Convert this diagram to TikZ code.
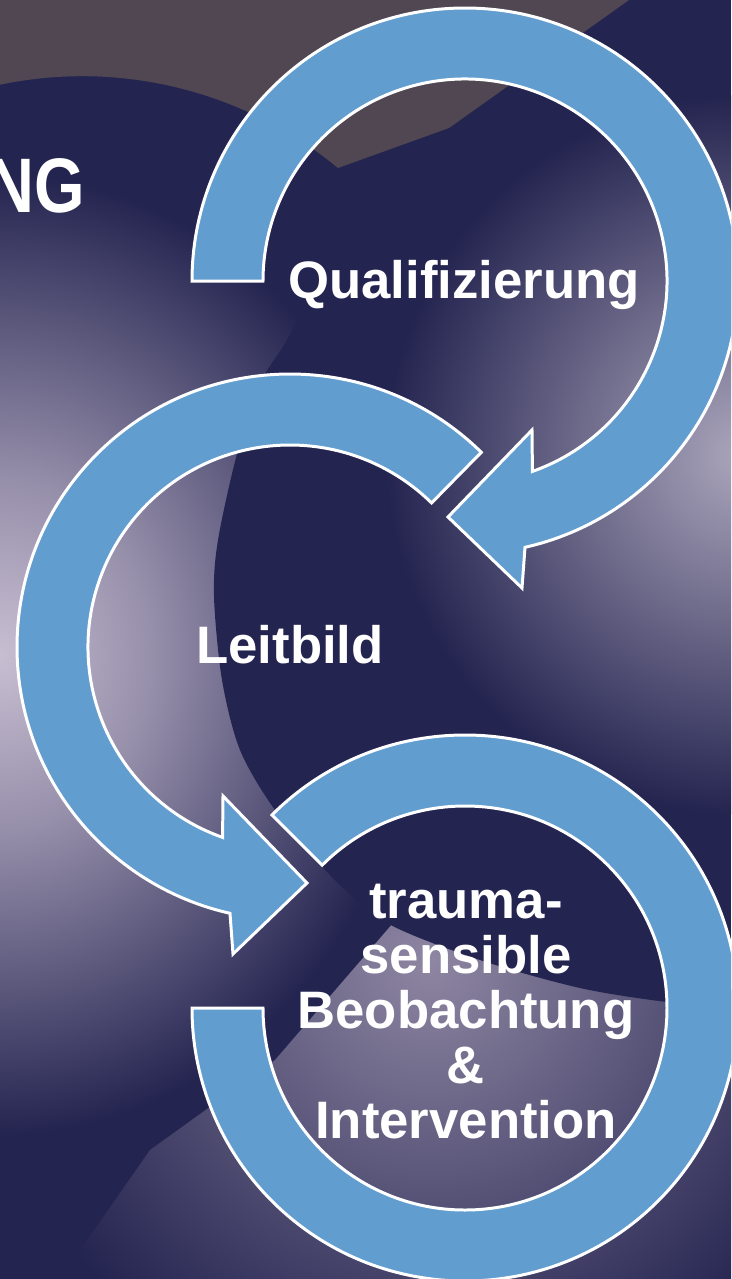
\documentclass[tikz,border=0pt]{standalone}
\usepackage{fontspec}
\setmainfont{Liberation Sans}
\definecolor{navy}{RGB}{36,36,80}
\definecolor{slatebrown}{RGB}{80,71,82}
\definecolor{arrowblue}{RGB}{98,157,208}
\definecolor{glowleft}{RGB}{200,190,210}
\definecolor{glowright}{RGB}{172,166,188}
\definecolor{glowlow}{RGB}{142,134,162}
\pgfdeclareradialshading{leftglow}{\pgfpointorigin}{color(0bp)=(glowleft); color(9bp)=(glowleft!70!navy); color(25bp)=(navy); color(50bp)=(navy)}
\pgfdeclareradialshading{rightglow}{\pgfpointorigin}{color(0bp)=(glowright); color(25bp)=(navy); color(50bp)=(navy)}
\pgfdeclareradialshading{lowglow}{\pgfpointorigin}{color(0bp)=(glowlow); color(25bp)=(navy); color(50bp)=(navy)}

\begin{document}
\begin{tikzpicture}[x=0.02cm, y=0.02cm,
    cyclearrow/.style={fill=arrowblue, draw=white, line width=1.7pt, miter limit=10},
    steplabel/.style={text=white, font=\fontsize{30}{31.3}\selectfont\bfseries, inner sep=0pt, align=center}]
  \useasboundingbox (0,0) rectangle (731,-1279);
  \clip (0,0) rectangle (731,-1279);
  % background
  \fill[navy] (0,0) rectangle (731,-1279);
  \shade[shading=leftglow] (0,-655) ellipse [x radius=420, y radius=480];
  \begin{scope}
    \clip (400,-915) -- (275,-1060) -- (150,-1150) -- (60,-1279) -- (731,-1279) -- (731,-990) -- cycle;
    \shade[shading=lowglow] (430,-960) circle [radius=460];
  \end{scope}
  \begin{scope}
    \clip plot[smooth] coordinates {(360,-150) (298,-318) (262,-380) (238,-450) (218,-540) (214,-597) (222,-680) (240,-750) (275,-810) (330,-875) (387,-923) (480,-960) (580,-988) (667,-1002) (731,-1006)} -- (731,0) -- (500,0) -- cycle;
    \fill[navy] (0,0) rectangle (731,-1279);
    \shade[shading=rightglow] (745,-455) circle [radius=360];
  \end{scope}
  \fill[slatebrown] (0,0) -- (629,0) -- (449,-128) -- (338,-168) arc[start angle=50.5, end angle=102.1, radius=402] -- cycle;

  % arrows
  \coordinate (c1) at (465,-281);
  \coordinate (c2) at (290,-647);
  \coordinate (c3) at (465,-1008);
  \draw[cyclearrow, shift={(c1)}] (180:273) arc[start angle=180, end angle=-77.3, radius=273]
    -- (57,-307) -- (-17,-236) -- (67,-149) -- (-70.5:202) arc[start angle=-70.5, end angle=180, radius=202] -- cycle;
  \draw[cyclearrow, shift={(c2)}] (45.5:273) arc[start angle=45.5, end angle=257.3, radius=273]
    -- (-57,-307) -- (17,-236) -- (-67,-149) -- (250.5:202) arc[start angle=250.5, end angle=45.5, radius=202] -- cycle;
  \draw[cyclearrow, shift={(c3)}] (135:273) arc[start angle=135, end angle=-180, radius=273]
    -- (180:202) arc[start angle=-180, end angle=135, radius=202] -- cycle;

  % labels
  \node[steplabel, anchor=base] (qual) at (464,-298) {Qualifizierung};
  \node[steplabel, anchor=base] (leit) at (290,-663) {Leitbild};
  \node[steplabel] (trauma) at (466,-1012) {trauma-\\sensible\\Beobachtung\\\&\\Intervention};
  \node[text=white, font=\fontsize{44}{44}\selectfont\bfseries, xscale=0.84, anchor=base east, inner sep=0pt] (title) at (85,-212) {NG};
\end{tikzpicture}
\end{document}
